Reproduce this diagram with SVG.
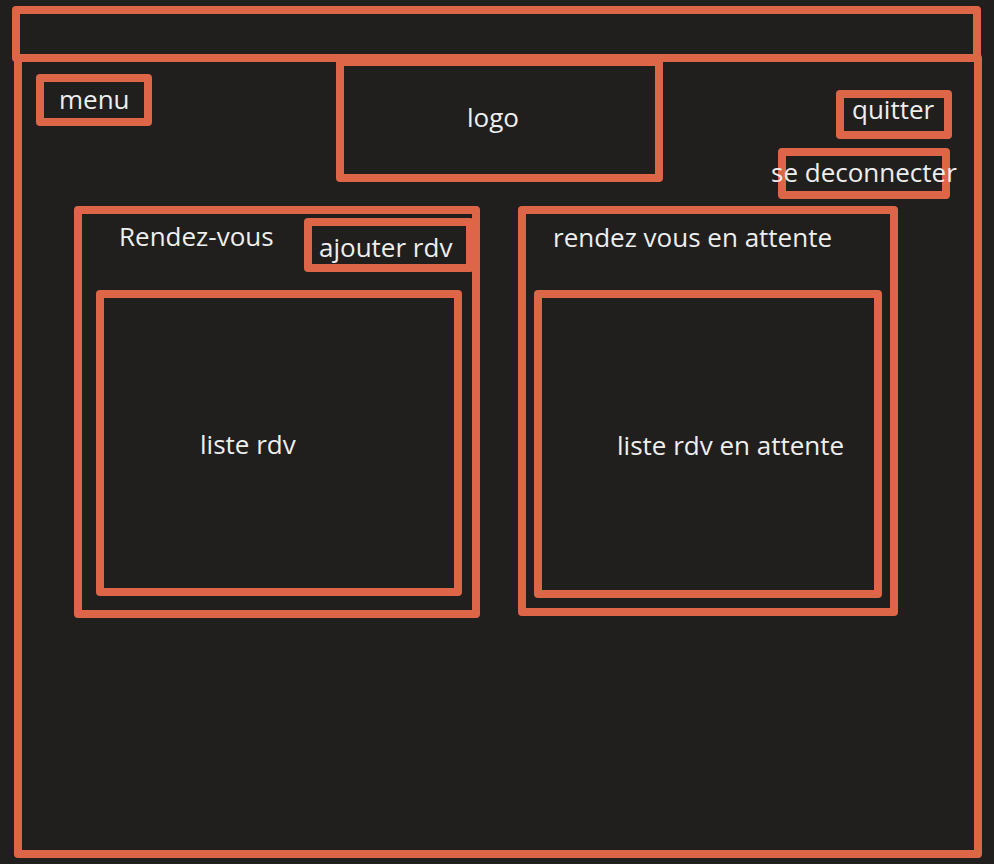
<svg xmlns="http://www.w3.org/2000/svg" width="994" height="864" viewBox="0 0 994 864">
<style>
.box{fill:none;stroke:#DD6648;stroke-width:8;stroke-linejoin:round}
.lbl{fill:#EEEEEE;font-family:"Open Sans","Noto Sans","DejaVu Sans",sans-serif;font-size:26px}
</style>
<rect x="0" y="0" width="994" height="864" fill="#201F1D"/>
<g id="topbar"><rect class="box" x="16" y="10" width="961" height="48"/></g>
<g id="frame"><rect class="box" x="18" y="58" width="960" height="796"/></g>
<g id="menu"><rect class="box" x="40" y="78" width="108" height="44"/><text class="lbl" x="59" y="109">menu</text></g>
<g id="logo"><rect class="box" x="340" y="62" width="319" height="116"/><text class="lbl" x="467" y="127">logo</text></g>
<g id="quitter"><rect class="box" x="840" y="94" width="108" height="41"/><text class="lbl" x="852" y="119">quitter</text></g>
<g id="deconnecter"><rect class="box" x="782" y="152" width="164" height="43"/><text class="lbl" x="771" y="182">se deconnecter</text></g>
<g id="rendezvous"><rect class="box" x="78" y="210" width="398" height="404"/><text class="lbl" x="119" y="246">Rendez-vous</text></g>
<g id="ajouter"><rect class="box" x="308" y="222" width="162" height="46"/><text class="lbl" x="319" y="257">ajouter rdv</text></g>
<g id="listerdv"><rect class="box" x="100" y="294" width="358" height="298"/><text class="lbl" x="200" y="454">liste rdv</text></g>
<g id="attente"><rect class="box" x="522" y="210" width="372" height="402"/><text class="lbl" x="553" y="247">rendez vous en attente</text></g>
<g id="listeattente"><rect class="box" x="538" y="294" width="340" height="300"/><text class="lbl" x="617" y="455">liste rdv en attente</text></g>
<g id="connectors"></g>
</svg>
